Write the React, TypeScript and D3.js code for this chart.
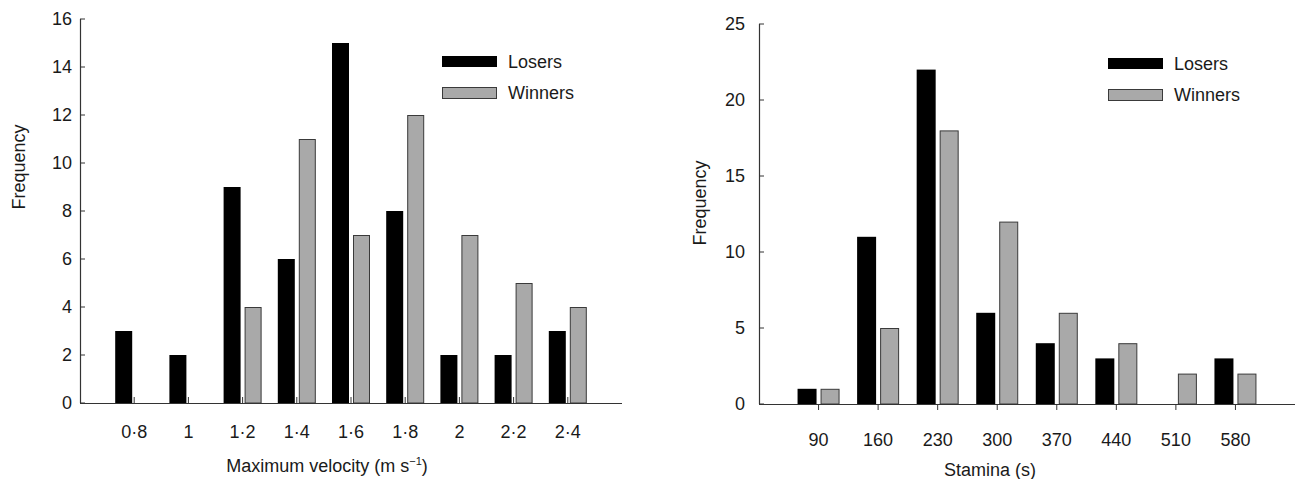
import React, { useEffect, useRef } from 'react';
import * as d3 from 'd3';

// left panel: maximum velocity
const velocityBins = ['0·8', '1', '1·2', '1·4', '1·6', '1·8', '2', '2·2', '2·4'];
const velocityLosers = [3, 2, 9, 6, 15, 8, 2, 2, 3];
const velocityWinners = [0, 0, 4, 11, 7, 12, 7, 5, 4];
const velocityTicks = [0, 2, 4, 6, 8, 10, 12, 14, 16];

// right panel: stamina
const staminaBins = ['90', '160', '230', '300', '370', '440', '510', '580'];
const staminaLosers = [1, 11, 22, 6, 4, 3, 0, 3];
const staminaWinners = [1, 5, 18, 12, 6, 4, 2, 2];
const staminaTicks = [0, 5, 10, 15, 20, 25];

const W = 1295, H = 479;
const FONT = '"Liberation Sans", Arial, Helvetica, sans-serif';
const TEXT = '#1a1a1a';
const AXIS = '#333';
const GREY = '#a9a9a9';

type Panel = {
  bins: string[];
  losers: number[];
  winners: number[];
  ticks: number[];
  yMax: number;
  x0: number; x1: number; y0: number; y1: number;
  barW: number; gap: number;
  xTickDir: number; // -1 up into the plot, 1 down
  tickLabelY: number;
  yLabelGap: number;
  freqPos: [number, number];
  titlePos: [number, number];
  legend: [number, number];
};

const panels: Panel[] = [
  {
    bins: velocityBins, losers: velocityLosers, winners: velocityWinners, ticks: velocityTicks, yMax: 16,
    x0: 80, x1: 622, y0: 403, y1: 19, barW: 17, gap: 2,
    xTickDir: -1, tickLabelY: 438, yLabelGap: 8,
    freqPos: [25, 167], titlePos: [327, 472], legend: [442, 56],
  },
  {
    bins: staminaBins, losers: staminaLosers, winners: staminaWinners, ticks: staminaTicks, yMax: 25,
    x0: 759, x1: 1295, y0: 404, y1: 24, barW: 19, gap: 2,
    xTickDir: 1, tickLabelY: 446, yLabelGap: 14,
    freqPos: [706, 203], titlePos: [990, 476], legend: [1108, 58],
  },
];

function drawPanel(svg: d3.Selection<SVGSVGElement, unknown, null, undefined>, p: Panel) {
  const x = d3.scalePoint<string>().domain(p.bins).range([p.x0, p.x1]).padding(1);
  const y = d3.scaleLinear().domain([0, p.yMax]).range([p.y0, p.y1]);
  const g = svg.append('g').attr('font-family', FONT).attr('fill', TEXT);

  // bars
  const rows = p.bins.map((b, i) => ({ bin: b, losers: p.losers[i], winners: p.winners[i] }));
  g.append('g').selectAll('rect')
    .data(rows.filter(d => d.losers > 0))
    .join('rect')
    .attr('x', d => (x(d.bin) as number) - p.gap - p.barW)
    .attr('y', d => y(d.losers))
    .attr('width', p.barW)
    .attr('height', d => y(0) - y(d.losers))
    .attr('fill', '#000');
  g.append('g').selectAll('rect')
    .data(rows.filter(d => d.winners > 0))
    .join('rect')
    .attr('x', d => (x(d.bin) as number) + p.gap + 0.5)
    .attr('y', d => y(d.winners) + 0.5)
    .attr('width', p.barW - 1)
    .attr('height', d => y(0) - y(d.winners) - 0.5)
    .attr('fill', GREY)
    .attr('stroke', '#3a3a3a')
    .attr('stroke-width', 1);

  // y axis
  g.append('line').attr('x1', p.x0 + 0.5).attr('x2', p.x0 + 0.5).attr('y1', y(p.yMax)).attr('y2', y(0))
    .attr('stroke', AXIS).attr('stroke-width', 1.2);
  g.append('g').selectAll('line').data(p.ticks).join('line')
    .attr('x1', p.x0).attr('x2', p.x0 + 5)
    .attr('y1', d => y(d)).attr('y2', d => y(d))
    .attr('stroke', AXIS);
  g.append('g').selectAll('text').data(p.ticks).join('text')
    .attr('x', p.x0 - p.yLabelGap).attr('y', d => y(d))
    .attr('dy', '0.36em').attr('text-anchor', 'end').attr('font-size', 18)
    .text(d => d);

  // x axis
  g.append('line').attr('x1', p.x0).attr('x2', p.x1).attr('y1', y(0) + 0.5).attr('y2', y(0) + 0.5)
    .attr('stroke', AXIS).attr('stroke-width', 1.2);
  g.append('g').selectAll('line').data(p.bins).join('line')
    .attr('x1', d => x(d) as number).attr('x2', d => x(d) as number)
    .attr('y1', y(0)).attr('y2', y(0) + 6 * p.xTickDir)
    .attr('stroke', AXIS);
  g.append('g').selectAll('text').data(p.bins).join('text')
    .attr('x', d => x(d) as number).attr('y', p.tickLabelY)
    .attr('text-anchor', 'middle').attr('font-size', 18)
    .text(d => d);

  // axis titles
  g.append('text')
    .attr('transform', `translate(${p.freqPos[0]},${p.freqPos[1]}) rotate(-90)`)
    .attr('text-anchor', 'middle').attr('font-size', 18)
    .text('Frequency');

  // legend
  const [lx, ly] = p.legend;
  g.append('rect').attr('x', lx).attr('y', ly).attr('width', 55).attr('height', 11).attr('fill', '#000');
  g.append('rect').attr('x', lx + 0.5).attr('y', ly + 31.5).attr('width', 54).attr('height', 11)
    .attr('fill', GREY).attr('stroke', '#3a3a3a');
  g.append('text').attr('x', lx + 66).attr('y', ly + 6).attr('dy', '0.36em').attr('font-size', 18).text('Losers');
  g.append('text').attr('x', lx + 66).attr('y', ly + 37).attr('dy', '0.36em').attr('font-size', 18).text('Winners');
  return g;
}

export default function App() {
  const ref = useRef<SVGSVGElement | null>(null);

  useEffect(() => {
    const svg = d3.select(ref.current as SVGSVGElement);
    svg.selectAll('*').remove();

    const left = drawPanel(svg, panels[0]);
    const t = left.append('text')
      .attr('x', panels[0].titlePos[0]).attr('y', panels[0].titlePos[1])
      .attr('text-anchor', 'middle').attr('font-size', 18);
    t.append('tspan').text('Maximum velocity (m s');
    t.append('tspan').attr('font-size', 11).attr('dy', -7).text('−1');
    t.append('tspan').attr('dy', 7).text(')');

    const right = drawPanel(svg, panels[1]);
    right.append('text')
      .attr('x', panels[1].titlePos[0]).attr('y', panels[1].titlePos[1])
      .attr('text-anchor', 'middle').attr('font-size', 18)
      .text('Stamina (s)');
  }, []);

  return (
    <svg ref={ref} width={W} height={H}
      style={{ position: 'absolute', left: 0, top: 0, background: '#fff' }} />
  );
}
